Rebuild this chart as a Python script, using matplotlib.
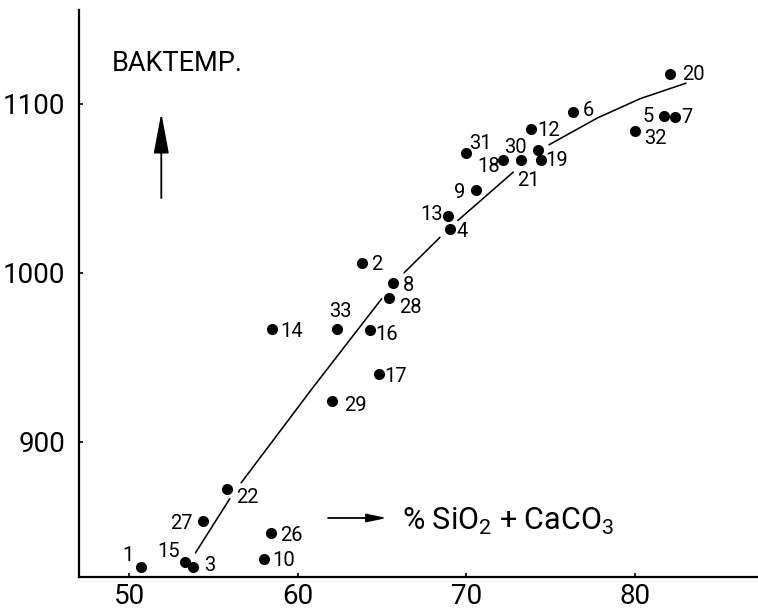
import matplotlib
matplotlib.use("Agg")
import matplotlib.pyplot as plt
from matplotlib.patches import FancyArrowPatch

plt.rcParams["font.family"] = ["Roboto", "DejaVu Sans"]
plt.rcParams["mathtext.fontset"] = "custom"
plt.rcParams["mathtext.rm"] = "Roboto"
plt.rcParams["mathtext.it"] = "Roboto"
plt.rcParams["mathtext.bf"] = "Roboto"

# Sample numbers, % SiO2 + CaCO3 and firing temperature (deg C)
sample_ids = [1, 2, 3, 4, 5, 6, 7, 8, 9, 10, 12, 13, 14, 15, 16, 17, 18,
              19, 20, 21, 22, 26, 27, 28, 29, 30, 31, 32, 33]
silica_carbonate = [50.7, 63.8, 53.8, 69.05, 81.7, 76.3, 82.4, 65.65, 70.6,
                    58.0, 73.84, 68.9, 58.5, 53.3, 64.26, 64.84, 72.16,
                    74.45, 82.1, 73.25, 55.83, 58.4, 54.4, 65.4, 62.05,
                    74.26, 70.0, 80.0, 62.36]
firing_temp = [826, 1006, 826, 1026, 1093, 1095, 1092, 994, 1049, 831,
               1085, 1034, 967, 829, 966, 940, 1067, 1067, 1118, 1067,
               872, 846, 853, 985, 924, 1073, 1071, 1084, 967]

# Hand-drawn trend curve, broken where it passes the labels
trend_x = [[53.92, 55.99],
           [56.63, 60.81, 65.0],
           [66.28, 68.46],
           [69.47, 72.81],
           [74.88, 77.77, 80.33, 83.06]]
trend_y = [[834.1, 866.7],
           [875.6, 931.0, 985.0],
           [999.8, 1021.3],
           [1030.8, 1059.9],
           [1075.7, 1091.7, 1103.2, 1112.4]]

x_ticks = [50, 60, 70, 80]
y_ticks = [900, 1000, 1100]

# Label placement around each dot (pixels: right, up)
label_offset = {
    1: (-12.7, 13.7), 2: (15, 0), 3: (16.7, 4), 4: (11.7, 0),
    5: (-15, 1.7), 6: (15.6, 4.4), 7: (11.7, 2.3), 8: (15.6, -0.6),
    9: (-16.7, -0.7), 10: (20, 0), 12: (17.6, 0.7), 13: (-16, 3.3),
    14: (19.7, -1), 15: (-15.7, 12), 16: (17.4, -1.7), 17: (16.7, 0),
    18: (-14, -5), 19: (15.7, 1), 20: (22.6, 0.6), 21: (7.6, -18.3),
    22: (20, -5.7), 26: (21, 0), 27: (-21.6, 0), 28: (21.3, -6.7),
    29: (23, -1.7), 30: (-22.7, 4), 31: (14, 11), 32: (20, -5),
    33: (2.5, 19),
}

DPI = 100
fig = plt.figure(figsize=(7.58, 6.13), dpi=DPI)
ax = fig.add_axes([0.1042, 0.0587, 0.8945, 0.925])
ax.set_xlim(47.03, 87.24)
ax.set_ylim(820.1, 1155.6)

for xs, ys in zip(trend_x, trend_y):
    ax.plot(xs, ys, color="black", lw=1.15, solid_capstyle="butt")

ax.scatter(silica_carbonate, firing_temp, s=64, color="black", zorder=3,
           linewidths=0)

px2pt = 72.0 / DPI
for sid, x, y in zip(sample_ids, silica_carbonate, firing_temp):
    dx, dy = label_offset[sid]
    ax.annotate(str(sid), (x, y), xytext=(dx * px2pt, dy * px2pt),
                textcoords="offset points", ha="center",
                va="center_baseline", fontsize=14.5, color="black")

# Axis styling: only left and bottom lines, short inward ticks
for side in ("top", "right"):
    ax.spines[side].set_visible(False)
for side in ("left", "bottom"):
    ax.spines[side].set_linewidth(1.6)
ax.set_xticks(x_ticks)
ax.set_yticks(y_ticks)
ax.tick_params(axis="both", direction="in", length=3, width=1.2,
               labelsize=20)
ax.tick_params(axis="y", pad=10)
ax.tick_params(axis="x", pad=4)

# Axis annotations drawn inside the plot
ax.text(0.0482, 0.8924, "BAKTEMP.", transform=ax.transAxes, fontsize=19.5,
        ha="left", va="baseline")
ax.add_patch(FancyArrowPatch((0.1214, 0.6684), (0.1214, 0.8183),
                             transform=ax.transAxes,
                             arrowstyle="-|>,head_length=2.5,head_width=0.47",
                             mutation_scale=10, color="black", lw=1.3,
                             shrinkA=0, shrinkB=0))
ax.add_patch(FancyArrowPatch((0.3673, 0.1041), (0.4543, 0.1041),
                             transform=ax.transAxes,
                             arrowstyle="-|>,head_length=1.2,head_width=0.25",
                             mutation_scale=10, color="black", lw=1.3,
                             shrinkA=0, shrinkB=0))
ax.text(0.4764, 0.0829, "% SiO$_2$ + CaCO$_3$", transform=ax.transAxes,
        fontsize=22, ha="left", va="baseline")

fig.savefig("out.png", dpi=DPI)
